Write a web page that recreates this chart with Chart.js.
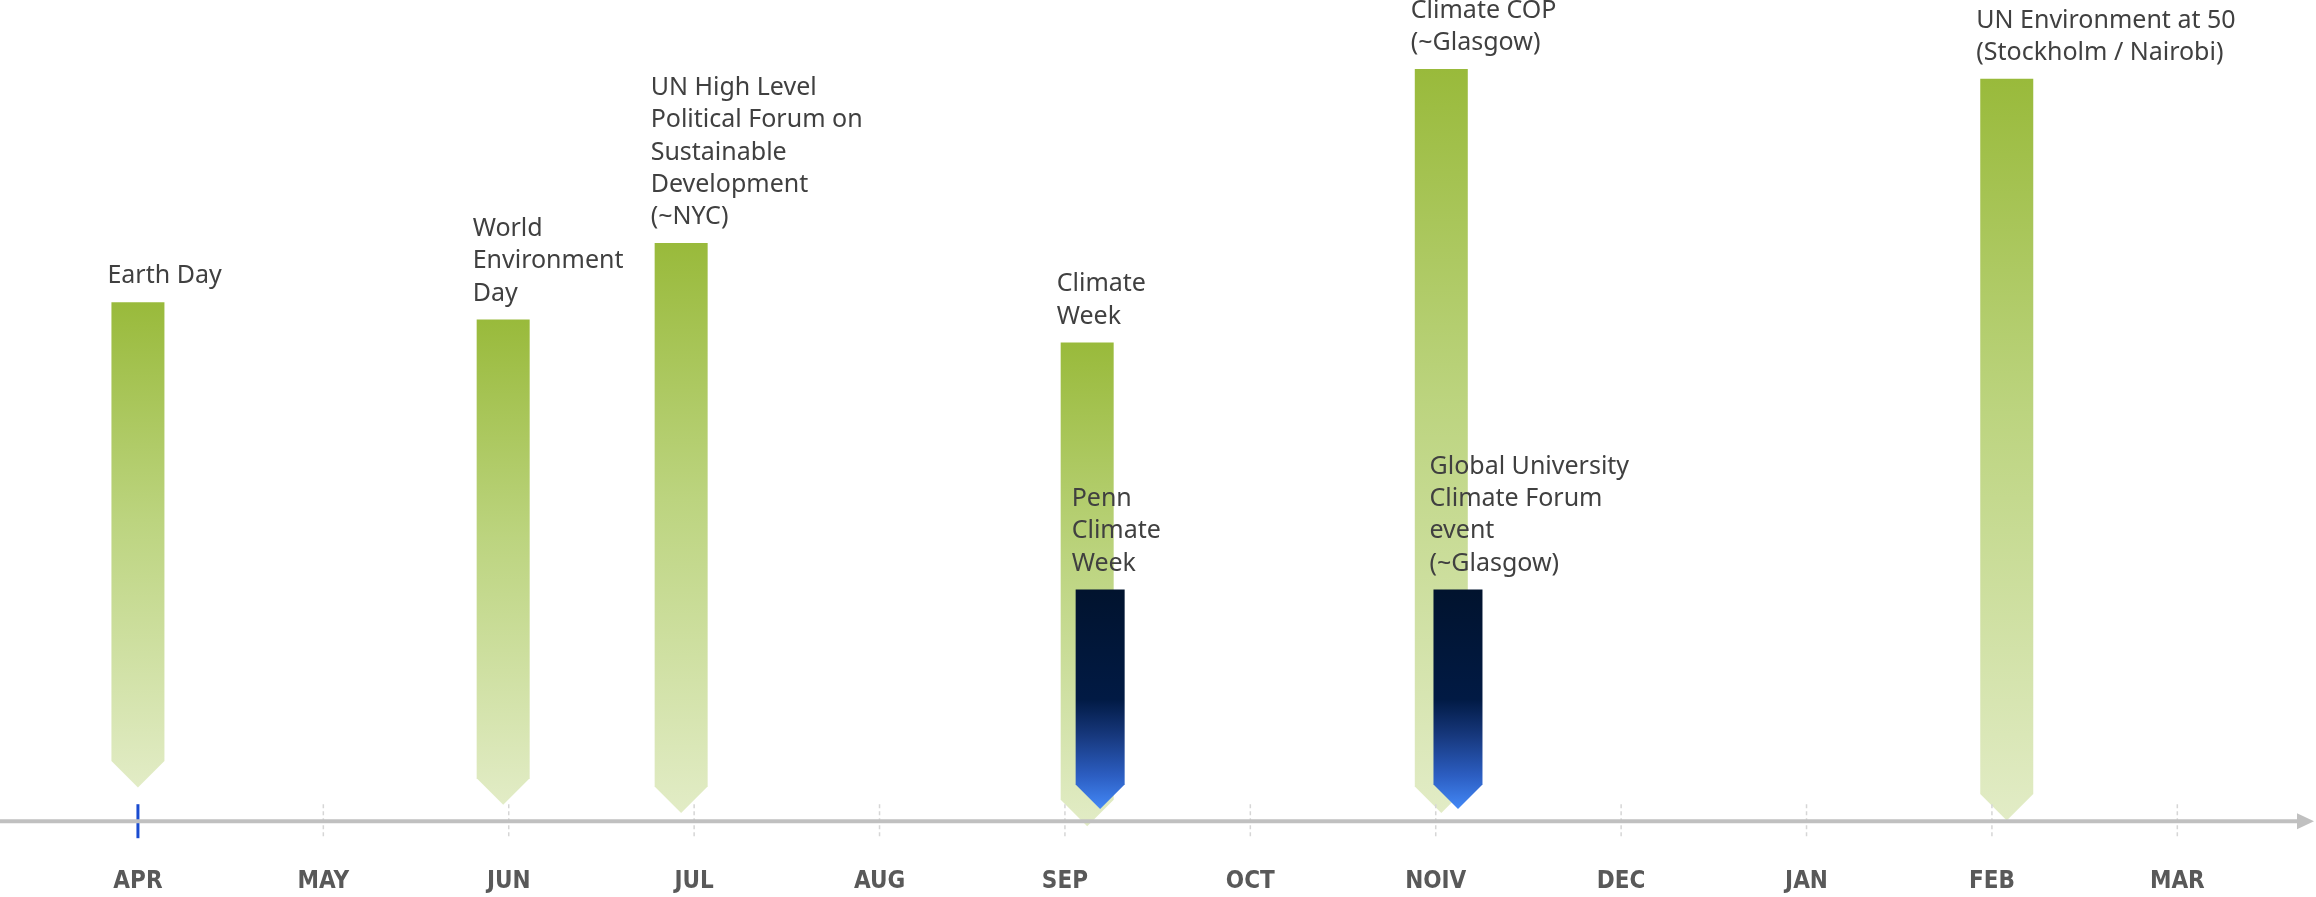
<!DOCTYPE html>
<html lang="en">
<head>
    <meta charset="UTF-8">
    <title>timeline</title>
    <style>
        html, body { margin: 0; padding: 0; background: #fff; }
        .box_chart { width: 2316px; height: 897px; }
    </style>
</head>
<body>
    <div class="box_chart">
        <canvas id="myChart"></canvas>
    </div>
    <script src="https://cdn.jsdelivr.net/npm/chart.js"></script>
    <script>
        // months on the axis (0 = APR)
        var months = ["APR", "MAY", "JUN", "JUL", "AUG", "SEP", "OCT", "NOIV", "DEC", "JAN", "FEB", "MAR"];

        // green events
        var greenLabels = [
            ["Earth Day"],
            ["World", "Environment", "Day"],
            ["UN High Level", "Political Forum on", "Sustainable", "Development", "(~NYC)"],
            ["Climate", "Week"],
            ["Climate COP", "(~Glasgow)"],
            ["UN Environment at 50", "(Stockholm / Nairobi)"]
        ];
        var greenX = [0, 1.97, 2.93, 5.12, 7.03, 10.08];
        var greenTop = [63.2, 61.1, 70.4, 58.3, 91.6, 90.4];
        var greenTip = [4.1, 2.0, 1.0, -0.6, 1.0, 0.1];

        // blue (Penn) events
        var blueLabels = [
            ["Penn", "Climate", "Week"],
            ["Global University", "Climate Forum", "event", "(~Glasgow)"]
        ];
        var blueX = [5.19, 7.12];
        var blueTop = [28.2, 28.2];
        var blueTip = [1.5, 1.5];

        function punti(xs, tips, tops) {
            var out = [];
            for (var i = 0; i < xs.length; i++) {
                out.push({ x: xs[i], y: [tips[i], tops[i]] });
            }
            return out;
        }

        function gradiente(ctx, top, tip, stops) {
            var g = ctx.createLinearGradient(0, top, 0, tip);
            for (var i = 0; i < stops.length; i++) {
                g.addColorStop(stops[i][0], stops[i][1]);
            }
            return g;
        }

        var greenStops = [[0, "#99ba3b"], [0.45, "#bcd47f"], [1, "#e2ecc6"]];
        var blueStops = [[0, "#01132e"], [0.5, "#011a44"], [0.66, "#16377b"], [0.85, "#2c5ec2"], [1, "#4388f6"]];

        var frecce = {
            id: "frecce",
            afterDatasetsDraw: function (chart) {
                var ctx = chart.ctx;
                chart.data.datasets.forEach(function (ds, di) {
                    var meta = chart.getDatasetMeta(di);
                    meta.data.forEach(function (el, i) {
                        var half = el.width / 2;
                        var top = Math.min(el.y, el.base);
                        var tip = Math.max(el.y, el.base);
                        var neck = tip - half;
                        ctx.save();
                        ctx.fillStyle = gradiente(ctx, top, tip, ds.stops);
                        ctx.beginPath();
                        ctx.moveTo(el.x - half, top);
                        ctx.lineTo(el.x + half, top);
                        ctx.lineTo(el.x + half, neck);
                        ctx.lineTo(el.x, tip);
                        ctx.lineTo(el.x - half, neck);
                        ctx.closePath();
                        ctx.fill();

                        // text above the bar
                        var righe = ds.testi[i];
                        ctx.fillStyle = "#404040";
                        ctx.font = "25px 'Noto Sans'";
                        ctx.textAlign = "left";
                        ctx.textBaseline = "middle";
                        for (var r = 0; r < righe.length; r++) {
                            var y = top - 26 - (righe.length - 1 - r) * 32.3;
                            ctx.fillText(righe[r], el.x - half - 4, y);
                        }
                        ctx.restore();
                    });
                });
            }
        };

        var asse = {
            id: "asse",
            afterDraw: function (chart) {
                var ctx = chart.ctx;
                var sx = chart.scales.x;
                var y0 = chart.scales.y.getPixelForValue(0);
                ctx.save();
                // tick marks on both sides of the axis
                sx.ticks.forEach(function (t, i) {
                    var px = sx.getPixelForTick(i);
                    ctx.beginPath();
                    if (i === 0) {
                        ctx.strokeStyle = "#1a4cd0";
                        ctx.lineWidth = 3;
                        ctx.setLineDash([]);
                    } else {
                        ctx.strokeStyle = "#d6d6d6";
                        ctx.lineWidth = 1.5;
                        ctx.setLineDash([4, 3]);
                    }
                    ctx.moveTo(px, y0 - 17);
                    ctx.lineTo(px, y0 + 17);
                    ctx.stroke();
                });
                ctx.setLineDash([]);
                // axis line + arrow
                ctx.strokeStyle = "#c0c0c0";
                ctx.lineWidth = 4;
                ctx.beginPath();
                ctx.moveTo(chart.chartArea.left, y0);
                ctx.lineTo(chart.chartArea.right - 14, y0);
                ctx.stroke();
                ctx.fillStyle = "#c0c0c0";
                ctx.beginPath();
                ctx.moveTo(chart.chartArea.right - 19, y0 - 8);
                ctx.lineTo(chart.chartArea.right - 2, y0);
                ctx.lineTo(chart.chartArea.right - 19, y0 + 8);
                ctx.closePath();
                ctx.fill();
                ctx.restore();
            }
        };

        var data = {
            datasets: [{
                label: "Eventi",
                data: punti(greenX, greenTip, greenTop),
                backgroundColor: "rgba(0,0,0,0)",
                barThickness: 53,
                stops: greenStops,
                testi: greenLabels
            }, {
                label: "Penn",
                data: punti(blueX, blueTip, blueTop),
                backgroundColor: "rgba(0,0,0,0)",
                barThickness: 49,
                stops: blueStops,
                testi: blueLabels
            }]
        };

        var config = {
            type: "bar",
            data: data,
            options: {
                responsive: true,
                maintainAspectRatio: false,
                animation: false,
                grouped: false,
                layout: { padding: { top: 0, left: 0, right: 0, bottom: -45 } },
                plugins: {
                    legend: { display: false },
                    tooltip: { enabled: false },
                    title: { display: false }
                },
                scales: {
                    x: {
                        type: "linear",
                        offset: false,
                        min: -0.744,
                        max: 11.748,
                        afterBuildTicks: function (scale) {
                            scale.ticks = months.map(function (m, i) { return { value: i }; });
                        },
                        grid: { display: false, drawTicks: false },
                        border: { display: false },
                        ticks: {
                            autoSkip: false,
                            maxRotation: 0,
                            padding: 46,
                            color: "#595959",
                            font: { family: "'DejaVu Sans Condensed', sans-serif", size: 24, weight: "bold" },
                            callback: function (value) { return months[Math.round(value)]; }
                        }
                    },
                    y: {
                        display: false,
                        min: 0,
                        max: 100
                    }
                }
            },
            plugins: [frecce, asse]
        };

        new Chart(document.getElementById("myChart"), config);
    </script>
</body>
</html>
